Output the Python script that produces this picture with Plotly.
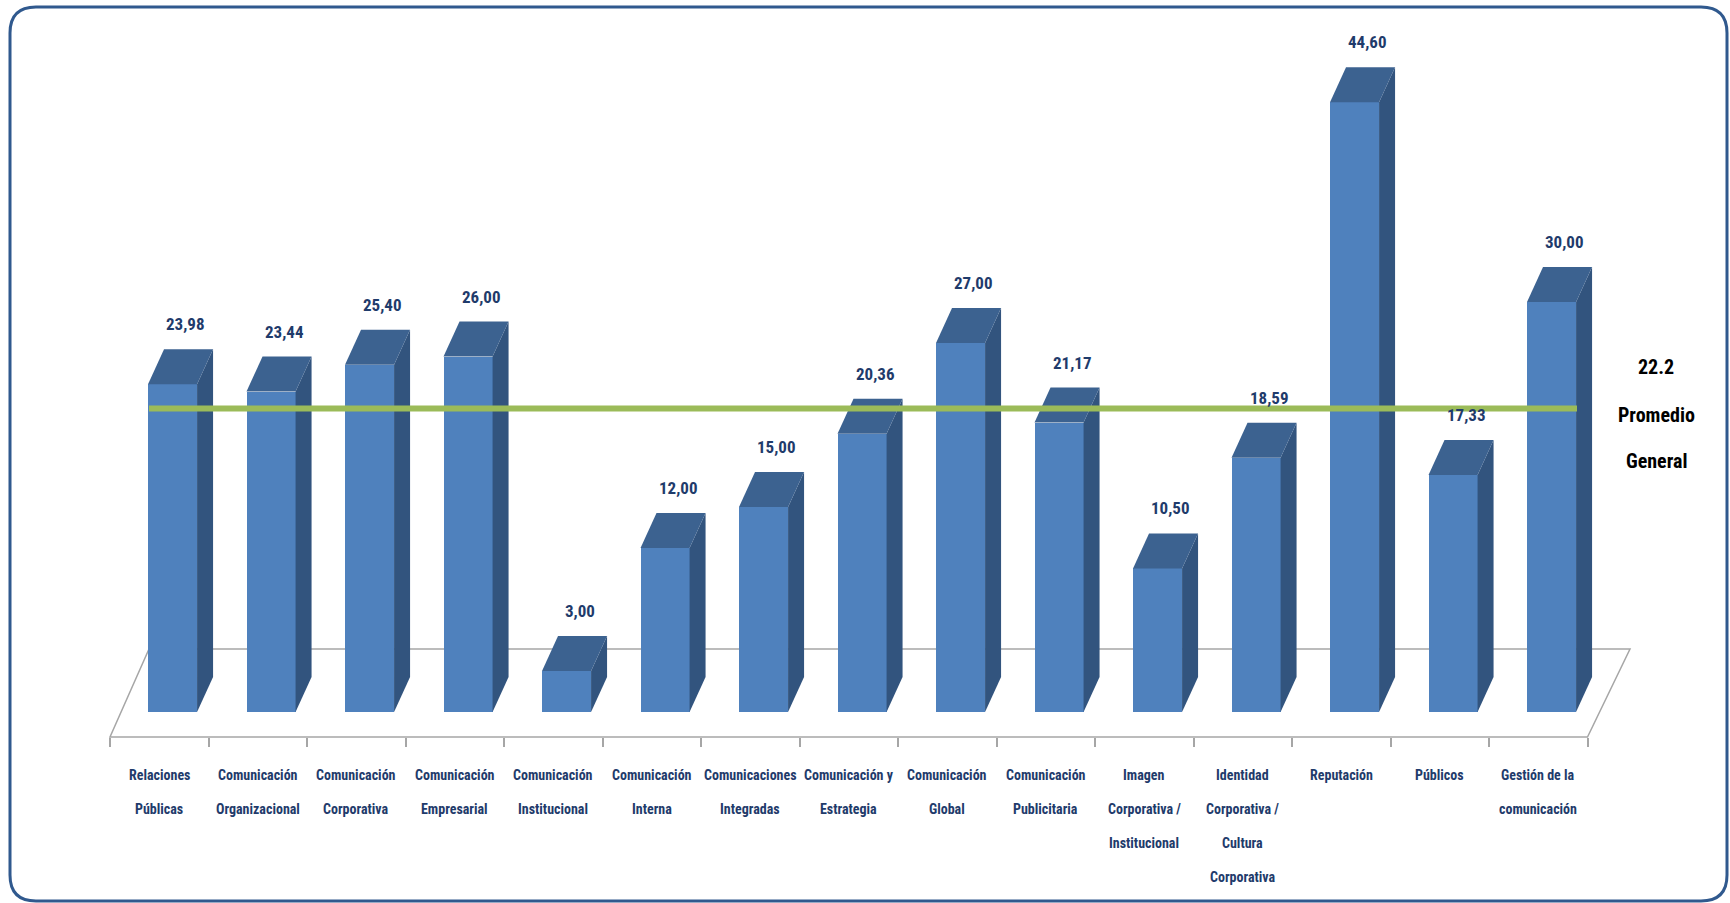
import plotly.graph_objects as go

# ---------------- data ----------------
categories = [
    "Relaciones<br>Públicas",
    "Comunicación<br>Organizacional",
    "Comunicación<br>Corporativa",
    "Comunicación<br>Empresarial",
    "Comunicación<br>Institucional",
    "Comunicación<br>Interna",
    "Comunicaciones<br>Integradas",
    "Comunicación y<br>Estrategia",
    "Comunicación<br>Global",
    "Comunicación<br>Publicitaria",
    "Imagen<br>Corporativa /<br>Institucional",
    "Identidad<br>Corporativa /<br>Cultura<br>Corporativa",
    "Reputación",
    "Públicos",
    "Gestión de la<br>comunicación",
]
values = [23.98, 23.44, 25.40, 26.00, 3.00, 12.00, 15.00, 20.36,
          27.00, 21.17, 10.50, 18.59, 44.60, 17.33, 30.00]
promedio = 22.2
promedio_label = ["Promedio", "General"]

# ---------------- geometry / style ----------------
W, H = 1730, 903
PX = 98.5          # pixels per category
PY = 13.67         # pixels per value unit
X0 = 159.25        # pixel x of category 0 centre
Y0 = 712.0         # pixel y of value 0
xr = [(0 - X0) / PX, (W - X0) / PX]
yr = [(Y0 - H) / PY, Y0 / PY]

def px2x(p):
    return (p - X0) / PX

def py2y(p):
    return (Y0 - p) / PY

FRONT = "#4F81BD"
SIDE = "#32547E"
TOP = "#3C6290"
NAVY = "#1F3B6B"
GREEN = "#9BBB59"
FONT = "Roboto Condensed, Liberation Sans Narrow, Roboto, Lato, sans-serif"

BAR_OFF = -0.114   # left edge of front face relative to category
BAR_W = 0.498
DX = 16 / PX       # depth offset (x)
DY = 35 / PY       # depth offset (y)

n = len(values)
xs = list(range(n))

fig = go.Figure()

# front faces
fig.add_trace(go.Bar(
    x=xs, y=values, width=BAR_W, offset=BAR_OFF,
    marker=dict(color=FRONT, line=dict(width=0)),
    hoverinfo="skip", showlegend=False,
))

# side and top faces
for i, v in zip(xs, values):
    left = i + BAR_OFF
    right = left + BAR_W
    fig.add_trace(go.Scatter(
        x=[right, right + DX, right + DX, right, right],
        y=[0, DY, v + DY, v, 0],
        fill="toself", fillcolor=SIDE, mode="lines",
        line=dict(width=0, color=SIDE), hoverinfo="skip", showlegend=False,
    ))
    fig.add_trace(go.Scatter(
        x=[left, right, right + DX, left + DX, left],
        y=[v, v, v + DY, v + DY, v],
        fill="toself", fillcolor=TOP, mode="lines",
        line=dict(width=0, color=TOP), hoverinfo="skip", showlegend=False,
    ))

# average line
fig.add_trace(go.Scatter(
    x=[px2x(149), px2x(1577)], y=[promedio, promedio], mode="lines",
    line=dict(color=GREEN, width=6), hoverinfo="skip", showlegend=False,
))

# value labels
for i, v in zip(xs, values):
    fig.add_annotation(
        x=i + BAR_OFF + BAR_W / 2, y=v, xref="x", yref="y",
        text=f"{v:.2f}".replace(".", ","), showarrow=False,
        xshift=13, yshift=60,
        font=dict(family=FONT, size=17, color=NAVY, weight="bold"),
    )

# category labels (one annotation per text line, Excel-like line spacing)
LINE0 = 775
LINE_STEP = 34
for i, cat in zip(xs, categories):
    for k, line in enumerate(cat.split("<br>")):
        fig.add_annotation(
            x=i, y=py2y(LINE0 + LINE_STEP * k), xref="x", yref="y",
            text=line, showarrow=False,
            font=dict(family=FONT, size=14, color=NAVY, weight="bold"),
        )

# average label
lab_x = px2x(1656)
for txt, py in zip([f"{promedio}"] + promedio_label, [367, 415, 461]):
    fig.add_annotation(
        x=lab_x, y=py2y(py), xref="x", yref="y", text=txt, showarrow=False,
        font=dict(family=FONT, size=20, color="black", weight="bold"),
    )

# floor (3D base)
fl = px2x(110)
fr = px2x(1587.5)
bl = px2x(149)
br = px2x(1630)
yf = py2y(737)
yb = py2y(649)
fig.add_shape(
    type="path", xref="x", yref="y", layer="below",
    path=f"M {fl},{yf} L {fr},{yf} L {br},{yb} L {bl},{yb} Z",
    fillcolor="white", line=dict(color="#A6A6A6", width=1.5),
)

# rounded border
def fx(p):
    return p / W

def fy(p):
    return 1 - p / H

L_, T_, R_, B_ = 10, 7, 1727, 901
rad = 26
path = (
    f"M {fx(L_ + rad)},{fy(T_)} L {fx(R_ - rad)},{fy(T_)} "
    f"Q {fx(R_)},{fy(T_)} {fx(R_)},{fy(T_ + rad)} "
    f"L {fx(R_)},{fy(B_ - rad)} Q {fx(R_)},{fy(B_)} {fx(R_ - rad)},{fy(B_)} "
    f"L {fx(L_ + rad)},{fy(B_)} Q {fx(L_)},{fy(B_)} {fx(L_)},{fy(B_ - rad)} "
    f"L {fx(L_)},{fy(T_ + rad)} Q {fx(L_)},{fy(T_)} {fx(L_ + rad)},{fy(T_)} Z"
)
fig.add_shape(type="path", xref="paper", yref="paper", path=path,
              line=dict(color="#30598E", width=3), layer="above")

fig.update_layout(
    width=W, height=H,
    margin=dict(l=0, r=0, t=0, b=0),
    paper_bgcolor="white", plot_bgcolor="white",
    showlegend=False,
    bargap=0,
    xaxis=dict(
        range=xr, showgrid=False, zeroline=False, showline=False,
        tickmode="array", tickvals=xs, ticktext=[""] * n,
        ticks="", showticklabels=False,
        anchor="free", position=1 - 737 / H,
        minor=dict(tickmode="array", tickvals=[i - 0.5 for i in range(n + 1)],
                   ticks="outside", ticklen=9, tickcolor="#A6A6A6", tickwidth=1.5),
        fixedrange=True,
    ),
    yaxis=dict(range=yr, visible=False, fixedrange=True),
)

fig.write_html("out.html", config={"displayModeBar": False},
               post_script="document.body.style.margin='0';")
